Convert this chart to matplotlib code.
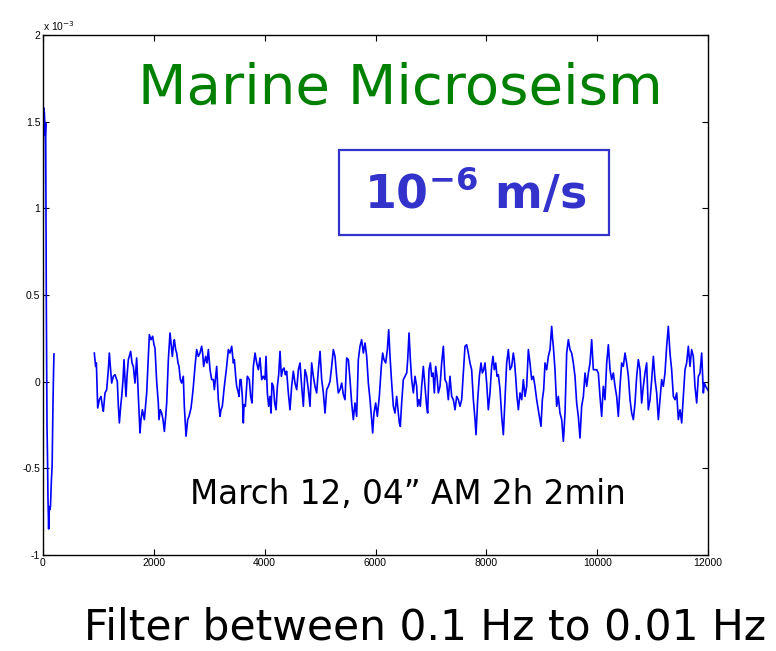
import matplotlib
matplotlib.use("Agg")
import matplotlib.pyplot as plt
from matplotlib.patches import Rectangle
import numpy as np

# velocity in units of 1e-3 (axis multiplier shown as "x 10^-3")
spike_x = [0, 12, 25, 40, 48, 60, 72, 82, 90, 102, 112, 120, 135, 150, 165, 180, 190, 198]
spike_y = [0.65, 1.58, 1.55, 1.42, 1.49, 0.45, -0.25, -0.45, -0.68, -0.85, -0.72, -0.74,
           -0.72, -0.58, -0.48, -0.13, 0.05, 0.16]

noise_x = [
    926, 950, 963, 987, 1017, 1047, 1071, 1089, 1119, 1149, 1179, 1197, 1221, 1239, 1269,
    1299, 1341, 1360, 1378, 1402, 1420, 1444, 1462, 1480, 1498, 1516, 1540, 1582, 1606,
    1630, 1660, 1690, 1720, 1750, 1768, 1793, 1829, 1871, 1901, 1919, 1949, 1979, 2003,
    2021, 2051, 2081, 2093, 2117, 2141, 2166, 2190, 2214, 2232, 2262, 2292, 2316, 2334,
    2358, 2370, 2394, 2412, 2436, 2454, 2478, 2502, 2532, 2550, 2581, 2611, 2635, 2671,
    2695, 2713, 2743, 2773, 2803, 2833, 2863, 2881, 2899, 2935, 2960, 2984, 3014, 3044,
    3074, 3092, 3116, 3134, 3164, 3194, 3212, 3236, 3272, 3308, 3345, 3375, 3405, 3435,
    3453, 3477, 3495, 3525, 3537, 3555, 3573, 3597, 3615,
    3627, 3651, 3687, 3723, 3747, 3772, 3796, 3826, 3856, 3886, 3916, 3946, 3976, 4006,
    4024, 4048, 4072, 4096, 4114, 4132, 4157, 4181, 4205, 4229, 4253, 4277, 4301, 4325,
    4349, 4373, 4397, 4427, 4457, 4487, 4517, 4547, 4578, 4608, 4638, 4668, 4698, 4728,
    4758, 4788, 4818, 4848, 4878, 4908, 4938, 4969, 4999, 5029, 5059, 5089, 5119, 5149,
    5179, 5209, 5239, 5269, 5299, 5329, 5360, 5390, 5420, 5450, 5480, 5510, 5540, 5570,
    5600, 5630, 5660, 5690, 5720, 5750, 5781, 5811, 5841, 5871, 5901, 5931, 5949, 5973,
    6003, 6033, 6069, 6105, 6129, 6153, 6184, 6214, 6238, 6262, 6292, 6322, 6352, 6382,
    6430,
    6448, 6472, 6502, 6532, 6563, 6581, 6605, 6629, 6653, 6683, 6713, 6743, 6761, 6785,
    6809, 6833, 6863, 6893, 6923, 6941, 6966, 6990, 7014, 7038, 7062, 7086, 7110, 7134,
    7164, 7194, 7224, 7254, 7284, 7314, 7344, 7375, 7405, 7435, 7465, 7495, 7525, 7555,
    7585, 7615, 7645, 7675, 7705, 7735, 7766, 7796, 7814, 7844, 7874, 7904, 7928, 7952,
    7976, 8006, 8036, 8066, 8096, 8120, 8144, 8169, 8193, 8217, 8247, 8277, 8307, 8337,
    8367, 8397, 8427, 8457, 8487, 8505, 8529, 8553, 8578, 8608, 8638, 8668, 8698, 8728,
    8758, 8788, 8818, 8848, 8878, 8908, 8938, 8968, 8986, 9011, 9035, 9059, 9089, 9119,
    9149, 9179, 9197,
    9209, 9239, 9269, 9299, 9329, 9360, 9390, 9420, 9450, 9480, 9510, 9540, 9570, 9600,
    9630, 9660, 9690, 9720, 9751, 9781, 9811, 9841, 9871, 9901, 9931, 9961, 9991, 10021,
    10051, 10081, 10111, 10141, 10172, 10202, 10232, 10262, 10292, 10322, 10352, 10382,
    10412, 10442, 10472, 10502, 10532, 10563, 10593, 10623, 10653, 10683, 10713, 10743,
    10773, 10803, 10833, 10863, 10893, 10923, 10954, 10984, 11014, 11044, 11074, 11104,
    11134, 11164, 11194, 11224, 11254, 11284, 11314, 11344, 11375, 11405, 11435, 11465,
    11495, 11525, 11555, 11585, 11615, 11645, 11675, 11705, 11735, 11765, 11796, 11826,
    11856, 11886, 11916, 11934, 11958, 12000,
]
noise_y = [
    0.165, 0.088, 0.108, -0.152, -0.104, -0.085, -0.142, -0.171, -0.065, -0.046, 0.069,
    0.165, 0.069, -0.008, 0.031, 0.040, 0.002, -0.142, -0.238, -0.142, -0.085, 0.012,
    0.127, 0.012, -0.085, 0.031, 0.127, 0.175, 0.108, 0.088, -0.008, 0.137, -0.085,
    -0.296, -0.219, -0.162, -0.219, -0.065, 0.146, 0.271, 0.242, 0.262, 0.213, 0.194,
    0.002, -0.123, -0.219, -0.162, -0.181, -0.219, -0.287, -0.200, -0.123, 0.127, 0.281,
    0.204, 0.146, 0.223, 0.242, 0.185, 0.165, 0.108, 0.088, 0.012, -0.008, 0.031, -0.142,
    -0.315, -0.219, -0.200, -0.152, -0.085, -0.027, 0.088, 0.185, 0.146, 0.165, 0.204,
    0.165, 0.088, 0.146, 0.108, 0.185, 0.069, 0.012, 0.012, -0.046, 0.031, 0.088, -0.104,
    -0.200, -0.162, -0.142, -0.027, 0.069, 0.185, 0.165, 0.204, 0.108, 0.127, 0.031,
    -0.027, -0.065, -0.085, 0.012, 0.012, -0.085, -0.238,
    -0.133, -0.142, 0.031, 0.012, -0.085, -0.123, 0.088, 0.165, 0.108, 0.069, 0.137,
    0.012, 0.031, 0.012, 0.146, -0.065, -0.142, -0.085, -0.181, -0.008, -0.027, -0.123,
    -0.162, -0.027, 0.040, 0.175, 0.031, 0.069, 0.079, 0.040, 0.060, -0.065, -0.162,
    -0.027, 0.060, -0.008, -0.046, 0.069, 0.108, -0.027, -0.142, 0.069, 0.031, -0.046,
    -0.142, 0.108, 0.031, -0.027, -0.065, 0.069, 0.175, 0.012, -0.065, -0.181, -0.046,
    -0.027, 0.002, 0.088, 0.185, 0.146, 0.031, -0.065, -0.046, -0.008, -0.075, -0.104,
    0.137, 0.127, 0.012, -0.123, -0.219, -0.123, -0.200, 0.127, 0.204, 0.242, 0.165,
    0.223, 0.146, -0.008, -0.104, -0.219, -0.296, -0.181, -0.123, -0.200, -0.085, 0.088,
    0.165, 0.127, 0.108, 0.185, 0.300, 0.146, -0.008, -0.142, -0.181, -0.085, -0.238,
    -0.258, -0.123, 0.012, 0.031, 0.050, 0.127, 0.281, 0.127, 0.012, -0.065, 0.031,
    -0.027, -0.142, -0.104, -0.142, -0.027, 0.088, -0.027, -0.142, -0.181, 0.069, 0.108,
    0.031, 0.050, -0.065, 0.088, 0.031, -0.065, -0.027, 0.108, 0.204, 0.012, -0.008,
    -0.104, 0.031, -0.085, -0.104, -0.162, -0.085, -0.104, -0.142, -0.104, 0.050, 0.204,
    0.213, 0.165, 0.108, 0.069, -0.104, -0.219, -0.306, -0.104, 0.031, 0.108, 0.050,
    0.069, 0.108, -0.008, -0.162, -0.065, 0.088, 0.146, 0.069, 0.108, 0.031, 0.040,
    -0.046, -0.200, -0.306, -0.104, 0.108, 0.185, 0.069, 0.088, 0.165, 0.127, 0.031,
    -0.085, -0.162, -0.065, -0.104, 0.012, -0.085, -0.027, 0.185, 0.108, 0.012, 0.031,
    -0.027, -0.104, -0.162, -0.219, -0.258, -0.104, -0.046, 0.108, 0.069, 0.146, 0.185,
    0.319, 0.242,
    0.204, 0.069, -0.142, -0.085, -0.181, -0.219, -0.344, -0.181, 0.165, 0.242, 0.185,
    0.165, 0.108, 0.031, -0.123, -0.200, -0.325, -0.142, -0.085, 0.050, -0.027, 0.050,
    0.108, 0.242, 0.069, 0.069, 0.069, 0.050, -0.085, -0.200, -0.027, -0.104, 0.108,
    0.213, 0.069, 0.012, 0.050, -0.027, -0.085, -0.200, -0.027, 0.108, 0.088, 0.165,
    0.108, 0.031, -0.104, -0.181, -0.219, -0.123, 0.031, 0.127, 0.069, -0.123, -0.027,
    0.050, 0.108, -0.162, -0.104, 0.012, 0.146, 0.012, -0.065, -0.219, -0.104, 0.012,
    -0.027, 0.050, 0.204, 0.319, 0.165, 0.069, -0.085, -0.104, -0.065, -0.219, -0.162,
    -0.238, -0.085, 0.069, 0.108, 0.204, 0.088, 0.185, 0.146, -0.027, -0.123, 0.031,
    0.050, 0.165, -0.065, -0.008, -0.027, -0.05,
]

y_ticks = [-1, -0.5, 0, 0.5, 1, 1.5, 2]
y_tick_labels = ["-1", "-0.5", "0", "0.5", "1", "1.5", "2"]
x_ticks = [0, 2000, 4000, 6000, 8000, 10000, 12000]

plt.rcParams["font.family"] = ["DejaVu Sans"]
plt.rcParams["mathtext.fontset"] = "dejavusans"

fig = plt.figure(figsize=(7.76, 6.51), dpi=100)
ax = fig.add_axes([43 / 776, 1 - 555 / 651, 665 / 776, 520 / 651])

ax.plot(spike_x, spike_y, color="#0000ff", lw=1.2)
ax.plot(noise_x, noise_y, color="#0000ff", lw=1.2)

ax.set_xlim(0, 12000)
ax.set_ylim(-1, 2)
ax.set_xticks(x_ticks)
ax.set_xticklabels([str(t) for t in x_ticks])
ax.set_yticks(y_ticks)
ax.set_yticklabels(y_tick_labels)
ax.tick_params(direction="in", top=True, right=True, length=4, width=0.8,
               labelsize=7.5, pad=2)
for lbl in ax.get_xticklabels() + ax.get_yticklabels():
    lbl.set_family("Liberation Sans")
for s in ax.spines.values():
    s.set_linewidth(1.0)

ax.text(0.0, 1.004, r"x 10$^{-3}$", transform=ax.transAxes, fontsize=7.5,
        family="Liberation Sans", ha="left", va="bottom")

fig.text(400 / 776, 1 - 89 / 651, "Marine Microseism", color="#008000",
         fontsize=40.5, ha="center", va="center")

fig.patches.append(Rectangle((339 / 776, 1 - 235 / 651), 270 / 776, 85 / 651,
                             transform=fig.transFigure, fill=False,
                             edgecolor="#3333cc", lw=1.6))
fig.text(475 / 776, 1 - 193 / 651, r"10$^{\mathbf{-6}}$ m/s", color="#3333cc",
         fontsize=33, fontweight="bold", ha="center", va="center")

fig.text(408 / 776, 1 - 495 / 651, "March 12, 04\u201d AM 2h 2min", color="black",
         fontsize=23.5, ha="center", va="center")

fig.text(425 / 776, 1 - 627 / 651, "Filter between 0.1 Hz to 0.01 Hz", color="black",
         fontsize=30.5, ha="center", va="center")

fig.savefig("out.png", dpi=100)
